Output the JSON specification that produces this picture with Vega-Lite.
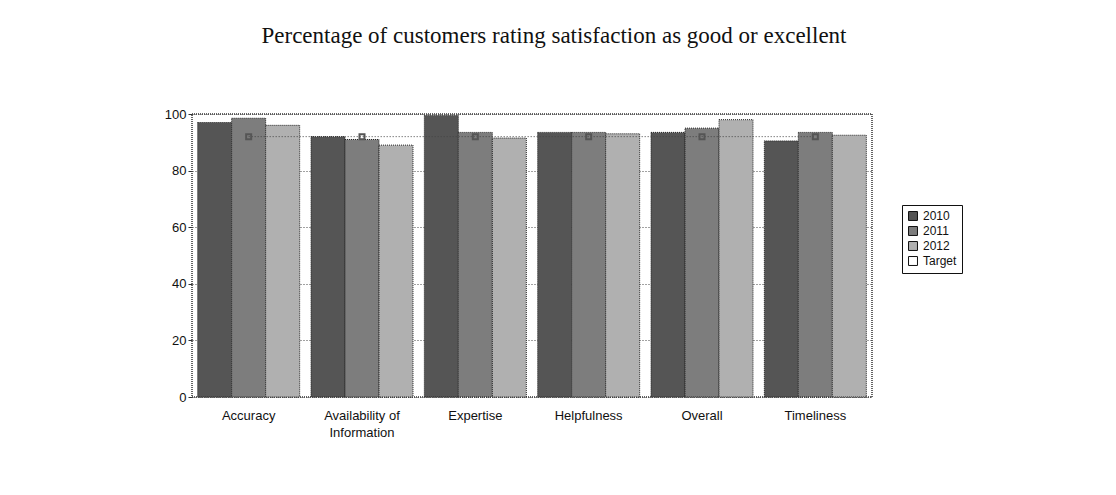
{
  "$schema": "https://vega.github.io/schema/vega-lite/v6.json",
  "autosize": {"type": "none"},
  "width": 680,
  "height": 283,
  "padding": {"left": 192, "top": 114, "right": 244, "bottom": 98},
  "background": "white",
  "title": {"text": "Percentage of customers rating satisfaction as good or excellent", "font": "Liberation Serif", "fontSize": 23, "fontWeight": "normal", "color": "#111", "offset": 60, "dx": 22, "anchor": "middle"},
  "config": {
    "view": {"stroke": "#333", "strokeDash": [1, 1], "strokeWidth": 1.5},
    "axis": {"labelFont": "Liberation Sans", "labelFontSize": 13, "labelColor": "#111", "domain": false, "tickColor": "#333"}
  },
  "datasets": {
    "bars": [
      {"category": "Accuracy", "year": "2010", "value": 97},
      {"category": "Accuracy", "year": "2011", "value": 98.5},
      {"category": "Accuracy", "year": "2012", "value": 96},
      {"category": "Availability of Information", "year": "2010", "value": 92},
      {"category": "Availability of Information", "year": "2011", "value": 91},
      {"category": "Availability of Information", "year": "2012", "value": 89},
      {"category": "Expertise", "year": "2010", "value": 99.5},
      {"category": "Expertise", "year": "2011", "value": 93.5},
      {"category": "Expertise", "year": "2012", "value": 91.5},
      {"category": "Helpfulness", "year": "2010", "value": 93.5},
      {"category": "Helpfulness", "year": "2011", "value": 93.5},
      {"category": "Helpfulness", "year": "2012", "value": 93},
      {"category": "Overall", "year": "2010", "value": 93.5},
      {"category": "Overall", "year": "2011", "value": 95},
      {"category": "Overall", "year": "2012", "value": 98},
      {"category": "Timeliness", "year": "2010", "value": 90.5},
      {"category": "Timeliness", "year": "2011", "value": 93.5},
      {"category": "Timeliness", "year": "2012", "value": 92.5}
    ],
    "target": [
      {"category": "Accuracy", "series": "Target", "value": 92},
      {"category": "Availability of Information", "series": "Target", "value": 92},
      {"category": "Expertise", "series": "Target", "value": 92},
      {"category": "Helpfulness", "series": "Target", "value": 92},
      {"category": "Overall", "series": "Target", "value": 92},
      {"category": "Timeliness", "series": "Target", "value": 92}
    ]
  },
  "encoding": {
    "x": {
      "field": "category", "type": "nominal", "sort": null, "title": null,
      "scale": {"paddingInner": 0.1, "paddingOuter": 0.05},
      "axis": {"labelAngle": 0, "ticks": false, "labelPadding": 12, "labelExpr": "datum.label == 'Availability of Information' ? ['Availability of', 'Information'] : datum.label", "labelLineHeight": 17}
    }
  },
  "layer": [
    {
      "data": {"name": "bars"},
      "mark": {"type": "bar", "stroke": "#222", "strokeWidth": 1, "strokeDash": [1, 1]},
      "encoding": {
        "xOffset": {"field": "year", "type": "nominal"},
        "y": {
          "field": "value", "type": "quantitative", "title": null,
          "scale": {"domain": [0, 100]},
          "axis": {"values": [0, 20, 40, 60, 80, 100], "gridColor": "#444", "gridDash": [1, 2], "tickSize": 4}
        },
        "fill": {
          "field": "year", "type": "nominal",
          "scale": {"domain": ["2010", "2011", "2012", "Target"], "range": ["#555555", "#7d7d7d", "#b0b0b0", "#ffffff"]},
          "legend": {
            "title": null, "orient": "none", "legendX": 710, "legendY": 91,
            "symbolType": "square", "symbolStrokeColor": "#111", "symbolStrokeWidth": 1, "symbolSize": 80,
            "labelFont": "Liberation Sans", "labelFontSize": 12, "labelColor": "#111", "labelLimit": 200,
            "labelExpr": "datum.label + '\u00a0\u00a0\u00a0\u00a0\u00a0\u00a0\u00a0\u00a0\u00a0\u00a0\u00a0\u00a0\u00a0\u00a0'",
            "strokeColor": "#111", "padding": 5, "rowPadding": 1, "fillColor": "white"
          }
        }
      }
    },
    {
      "data": {"name": "target"},
      "mark": {"type": "line", "color": "#444", "strokeDash": [1, 2], "strokeWidth": 1, "point": {"shape": "square", "filled": false, "stroke": "#555", "size": 25}},
      "encoding": {
        "y": {"field": "value", "type": "quantitative"}
      }
    }
  ]
}
